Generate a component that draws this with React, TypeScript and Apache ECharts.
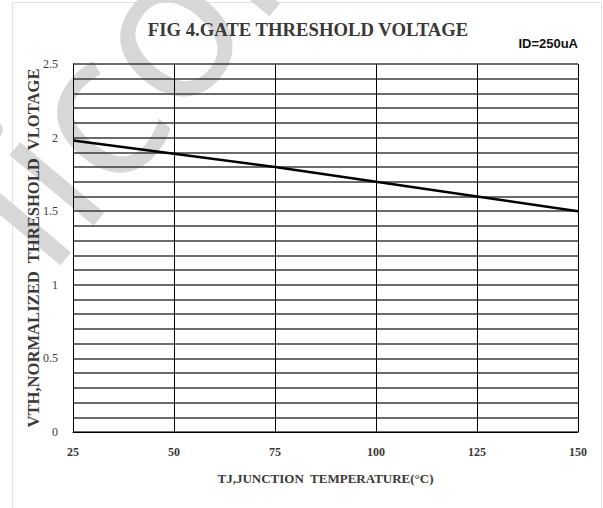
import React, { useEffect, useRef } from "react";
import * as echarts from "echarts";

const temperatures = [25, 50, 75, 100, 125, 150];
const vthNormalized = [1.98, 1.89, 1.8, 1.7, 1.6, 1.5];
const xTicks = { min: 25, max: 150, interval: 25 };
const yTicks = { min: 0, max: 2.5, interval: 0.5 };
const titleText = "FIG 4.GATE THRESHOLD VOLTAGE";
const conditionText = "ID=250uA";
const xName = "TJ,JUNCTION  TEMPERATURE(°C)";
const yName = "VTH,NORMALIZED  THRESHOLD  VLOTAGE";
const watermark = "licon";

export default function App() {
  const ref = useRef<HTMLDivElement>(null);
  useEffect(() => {
    if (!ref.current) return;
    const chart = echarts.init(ref.current, null, { renderer: "svg" });
    const serif = "'Liberation Serif', 'Times New Roman', serif";
    chart.setOption({
      animation: false,
      backgroundColor: "#ffffff",
      title: {
        text: titleText,
        left: 303,
        top: 15,
        textAlign: "center",
        textStyle: { fontFamily: serif, fontWeight: "bold", fontSize: 18.7, color: "#3a3838" },
      },
      graphic: [
        {
          type: "rect",
          z: -20,
          shape: { x: 12.5, y: 2.5, width: 589, height: 520 },
          style: { fill: "none", stroke: "#e2e2e2", lineWidth: 1 },
          silent: true,
        },
        {
          type: "text",
          z: -10,
          x: 133,
          y: 55,
          rotation: (50 * Math.PI) / 180,
          style: {
            text: watermark,
            fontFamily: "'Open Sans', sans-serif",
            fontSize: 205,
            fill: "#d7d7d7",
            align: "center",
            verticalAlign: "middle",
          },
          silent: true,
        },
        {
          type: "text",
          right: 25,
          top: 37,
          style: {
            text: conditionText,
            fontFamily: "'Liberation Sans', Arial, sans-serif",
            fontWeight: "bold",
            fontSize: 13,
            fill: "#111",
          },
        },
      ],
      grid: { left: 73, right: 25, top: 64, bottom: 76, containLabel: false },
      xAxis: {
        type: "value",
        min: xTicks.min,
        max: xTicks.max,
        interval: xTicks.interval,
        name: xName,
        nameLocation: "middle",
        nameGap: 40,
        nameMoveOverlap: false,
        nameTextStyle: { fontFamily: serif, fontWeight: "bold", fontSize: 13, color: "#3a3838" },
        axisLine: { show: true, lineStyle: { color: "#000", width: 1 } },
        axisTick: { show: false },
        axisLabel: { margin: 14, fontFamily: serif, fontWeight: "bold", fontSize: 12, color: "#3a3838" },
        splitLine: { show: true, lineStyle: { color: "#000", width: 1 } },
      },
      yAxis: {
        type: "value",
        min: yTicks.min,
        max: yTicks.max,
        interval: yTicks.interval,
        name: yName,
        nameLocation: "middle",
        nameGap: 31,
        nameMoveOverlap: false,
        nameTextStyle: { fontFamily: serif, fontWeight: "bold", fontSize: 16.6, color: "#3a3838" },
        axisLine: { show: true, lineStyle: { color: "#000", width: 1 } },
        axisTick: { show: false },
        minorTick: { show: false, splitNumber: 5 },
        axisLabel: { margin: 15, fontFamily: serif, fontSize: 12, color: "#3a3838" },
        splitLine: { show: true, lineStyle: { color: "#3a3a3a", width: 1.5 } },
        minorSplitLine: { show: true, lineStyle: { color: "#3a3a3a", width: 1.5 } },
      },
      series: [
        {
          type: "line",
          data: temperatures.map((t, i) => [t, vthNormalized[i]]),
          showSymbol: false,
          symbol: "none",
          lineStyle: { color: "#000", width: 2.5 },
          z: 5,
        },
      ],
    });
    return () => chart.dispose();
  }, []);
  return (
    <div
      ref={ref}
      style={{ position: "absolute", left: 0, top: 0, width: 603, height: 508 }}
    />
  );
}
